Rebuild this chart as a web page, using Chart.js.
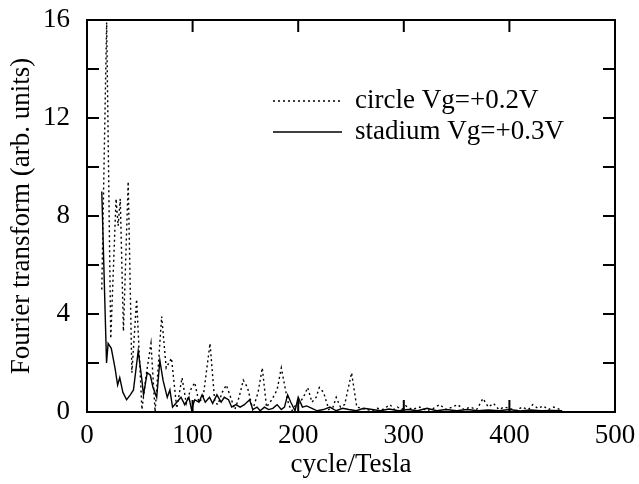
<!DOCTYPE html>
<html>
<head>
<meta charset="utf-8">
<title>Fourier transform</title>
<script src="https://cdn.jsdelivr.net/npm/chart.js@4.4.1/dist/chart.umd.min.js"></script>
<style>
    html, body { margin: 0; padding: 0; background: #fff; }
    #wrap { width: 639px; height: 484px; position: relative; }
</style>
</head>
<body>
<div id="wrap"><canvas id="chart"></canvas></div>
<script>
// circle Vg=+0.2V (dotted)
const circleX = [14, 18.6, 22.5, 27.5, 29.5, 31.5, 34.5, 39, 42.5, 47, 52, 56, 60.6, 64.5, 70.7, 75, 80, 85,
    90, 94, 98, 102, 106, 110, 116.5, 121, 124, 128, 132, 136, 140, 144, 148, 152, 157, 162, 166, 170,
    175, 180, 184, 188, 191, 194, 198, 202, 206, 209, 213, 217, 220, 224, 229, 233, 236, 240, 244, 247,
    250.6, 253, 255.5, 260, 265, 270, 275, 280, 287, 291, 294, 298, 302, 308, 315, 322, 328, 334, 340,
    346, 351, 357, 363, 369, 375, 380, 385, 390, 395, 400, 406, 412, 418, 422, 427, 432, 437, 442, 448];
const circleY = [5.0, 15.9, 3.0, 8.7, 7.6, 8.7, 3.3, 9.4, 1.6, 4.6, 0.1, 1.5, 2.8, 0.0, 3.9, 1.8, 2.2, 0.15,
    1.4, 0.35, 0.9, 1.2, 0.4, 0.6, 2.8, 0.4, 0.3, 0.8, 1.1, 0.6, 0.1, 0.6, 1.3, 1.0, 0.1, 0.8, 1.8, 0.2,
    0.5, 0.9, 1.8, 0.9, 0.3, 0.05, 0.3, 0.4, 0.7, 1.0, 0.4, 0.6, 1.0, 0.8, 0.1, 0.2, 0.6, 0.2, 0.3, 0.9,
    1.6, 0.9, 0.2, 0.15, 0.1, 0.05, 0.15, 0.1, 0.3, 0.1, 0.2, 0.1, 0.25, 0.1, 0.2, 0.05, 0.15, 0.3, 0.1,
    0.2, 0.3, 0.1, 0.2, 0.1, 0.55, 0.2, 0.35, 0.1, 0.2, 0.15, 0.05, 0.2, 0.1, 0.3, 0.15, 0.25, 0.1, 0.2, 0.1];

// stadium Vg=+0.3V (solid)
const stadiumX = [14, 18.5, 20, 23, 26.5, 29, 31, 34, 37.5, 41, 44, 48.5, 52, 53.5, 57, 60, 62.5, 66, 69,
    72, 76, 78.5, 81, 85, 89, 92.5, 96.5, 99, 102, 106, 109, 112, 116, 119, 123, 127, 130, 134, 137,
    141, 145, 149, 154, 157, 161, 164, 168, 172, 176, 180, 184, 187, 190, 193, 197, 200, 204, 208,
    213, 218, 224, 230, 236, 242, 248, 255, 262, 270, 278, 286, 295, 304, 313, 322, 331, 340, 350,
    360, 370, 380, 390, 400, 410, 420, 430, 440, 450];
const stadiumY = [9.0, 2.0, 2.8, 2.6, 1.8, 1.1, 1.4, 0.8, 0.5, 0.7, 0.9, 2.5, 1.3, 0.7, 1.6, 1.5, 1.0, 0.6, 2.1,
    1.3, 0.6, 0.9, 0.2, 0.4, 0.6, 0.3, 0.6, 0.1, 0.5, 0.4, 0.7, 0.4, 0.6, 0.35, 0.7, 0.4, 0.6, 0.5, 0.2,
    0.3, 0.2, 0.3, 0.5, 0.1, 0.2, 0.05, 0.2, 0.1, 0.15, 0.3, 0.1, 0.2, 0.7, 0.4, 0.05, 0.6, 0.2, 0.25,
    0.15, 0.05, 0.1, 0.2, 0.05, 0.15, 0.1, 0.05, 0.15, 0.1, 0.05, 0.12, 0.05, 0.1, 0.05, 0.15, 0.05, 0.1, 0.05,
    0.1, 0.05, 0.08, 0.05, 0.1, 0.04, 0.08, 0.05, 0.06, 0.05];

const xTickValues = [0, 100, 200, 300, 400, 500];
const yTickLabels = [0, 4, 8, 12, 16];

const FONT = "'Liberation Serif', 'Times New Roman', serif";

const toPoints = (xs, ys) => xs.map((x, i) => ({ x, y: ys[i] }));

// Frame, inward ticks on all four sides, and the legend
const framePlugin = {
    id: 'frame',
    afterDraw(chart) {
        const { ctx, chartArea: a, scales } = chart;
        const len = 12;
        ctx.save();
        ctx.strokeStyle = '#000';
        ctx.lineWidth = 2;
        ctx.strokeRect(a.left, a.top, a.right - a.left, a.bottom - a.top);

        ctx.beginPath();
        scales.x.ticks.forEach(t => {
            const px = scales.x.getPixelForValue(t.value);
            ctx.moveTo(px, a.bottom); ctx.lineTo(px, a.bottom - len);
            ctx.moveTo(px, a.top); ctx.lineTo(px, a.top + len);
        });
        scales.y.ticks.forEach(t => {
            const py = scales.y.getPixelForValue(t.value);
            ctx.moveTo(a.left, py); ctx.lineTo(a.left + len, py);
            ctx.moveTo(a.right, py); ctx.lineTo(a.right - len, py);
        });
        ctx.stroke();

        // legend
        const rows = [{ ds: chart.data.datasets[0], y: 101 }, { ds: chart.data.datasets[1], y: 132 }];
        ctx.font = '27px ' + FONT;
        ctx.fillStyle = '#000';
        ctx.textBaseline = 'middle';
        rows.forEach(r => {
            ctx.beginPath();
            ctx.lineWidth = r.ds.borderWidth;
            ctx.setLineDash(r.ds.borderDash || []);
            ctx.moveTo(273, r.y);
            ctx.lineTo(342, r.y);
            ctx.stroke();
            ctx.setLineDash([]);
            ctx.fillText(r.ds.label, 355, r.y);
        });
        ctx.restore();
    }
};

const chart = new Chart(document.getElementById('chart'), {
    type: 'line',
    data: {
        datasets: [
            {
                label: 'circle Vg=+0.2V',
                data: toPoints(circleX, circleY),
                borderColor: '#000',
                borderWidth: 1.4,
                borderDash: [2, 3],
                pointRadius: 0,
                tension: 0,
                fill: false,
            },
            {
                label: 'stadium Vg=+0.3V',
                data: toPoints(stadiumX, stadiumY),
                borderColor: '#000',
                borderWidth: 1.4,
                pointRadius: 0,
                tension: 0,
                fill: false,
            },
        ],
    },
    options: {
        responsive: true,
        maintainAspectRatio: false,
        animation: false,
        layout: { padding: { top: 20, right: 24, left: 0, bottom: 0 } },
        plugins: {
            legend: { display: false },
            tooltip: { enabled: false },
        },
        scales: {
            x: {
                type: 'linear',
                min: 0,
                max: 500,
                afterBuildTicks: scale => { scale.ticks = xTickValues.map(v => ({ value: v })); },
                afterFit: scale => {
                    scale.height = 72;
                    scale.paddingLeft = 0;
                    scale.paddingRight = 0;
                },
                grid: { display: false, drawTicks: false },
                border: { display: false },
                ticks: {
                    padding: 8,
                    color: '#000',
                    font: { family: FONT, size: 27 },
                    maxRotation: 0,
                },
                title: {
                    display: true,
                    text: 'cycle/Tesla',
                    color: '#000',
                    font: { family: FONT, size: 27 },
                    padding: { top: 0, bottom: 3 },
                },
            },
            y: {
                min: 0,
                max: 16,
                afterFit: scale => {
                    scale.width = 87;
                    scale.paddingTop = 0;
                    scale.paddingBottom = 0;
                },
                grid: { display: false, drawTicks: false },
                border: { display: false },
                ticks: {
                    stepSize: 2,
                    padding: 17,
                    color: '#000',
                    font: { family: FONT, size: 27 },
                    callback: v => (yTickLabels.includes(v) ? String(v) : ''),
                },
                title: {
                    display: true,
                    text: 'Fourier transform (arb. units)',
                    color: '#000',
                    font: { family: FONT, size: 27 },
                    padding: { top: 6, bottom: 0 },
                },
            },
        },
    },
    plugins: [framePlugin],
});
</script>
</body>
</html>
